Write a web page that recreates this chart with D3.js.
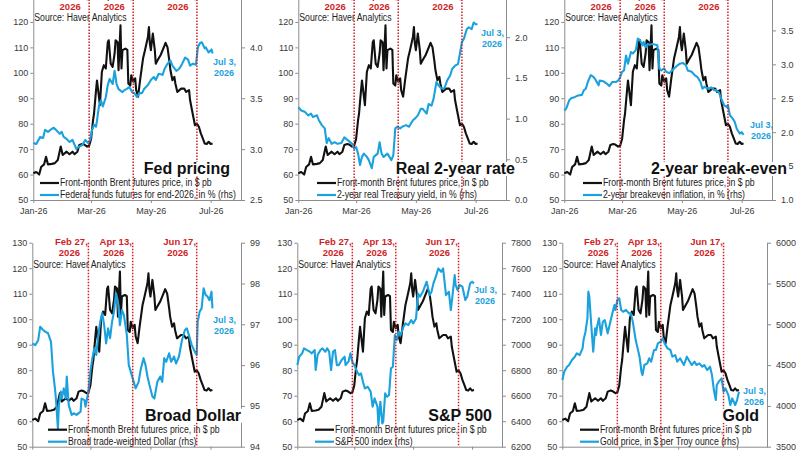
<!DOCTYPE html>
<html>
<head>
<meta charset="utf-8">
<script src="https://cdn.jsdelivr.net/npm/d3@7"></script>
<style>
  body { margin: 0; background: #fff; }
  svg text { font-family: "Liberation Sans", Arial, sans-serif; }
</style>
</head>
<body>
<svg id="chart" width="800" height="450"></svg>
<script>
// ---- data ----
var brent = [["01-01",60.5],["01-04",61],["01-07",60],["01-09",63],["01-12",64],["01-14",67],["01-16",64],["01-20",64.2],["01-23",64.5],["01-26",65.7],["01-29",71],["01-31",67.7],["02-04",69],["02-07",68],["02-10",69],["02-12",68],["02-15",69],["02-17",71.6],["02-20",72],["02-22",71.8],["02-25",71],["02-27",71.3],["03-01",74],["03-03",81.4],["03-04",84],["03-06",93],["03-07",97],["03-09",90.5],["03-10",87.3],["03-12",100.4],["03-14",103],["03-16",101.7],["03-18",112],["03-19",112.8],["03-21",103.6],["03-23",102.3],["03-25",107.6],["03-26",112.8],["03-28",112],["03-29",101],["03-31",118.7],["04-01",101.7],["04-02",108.9],["04-05",109.5],["04-07",109],["04-08",95.8],["04-10",95],["04-11",99],["04-13",96.5],["04-15",97.8],["04-16",93.2],["04-18",90.6],["04-20",97.1],["04-23",105.6],["04-25",108.9],["04-28",114.1],["04-29",118],["04-30",111.5],["05-01",108.9],["05-03",115.4],["05-05",109],["05-06",103.6],["05-08",105],["05-11",107],["05-15",110.8],["05-16",111.8],["05-18",110],["05-20",104.3],["05-21",101],["05-23",97.1],["05-25",98.4],["05-26",95.8],["05-28",92.5],["06-01",93.8],["06-04",93.8],["06-06",92.5],["06-09",93.2],["06-10",89.3],["06-12",85.3],["06-15",79.4],["06-17",80],["06-19",78.8],["06-21",76.2],["06-23",74.2],["06-25",72.2],["06-27",72],["06-29",72.9],["07-01",72],["07-03",72.2]];

var fedFunds = [["01-01",3.06],["01-04",3.05],["01-08",3.12],["01-11",3.11],["01-13",3.19],["01-16",3.17],["01-20",3.20],["01-22",3.21],["01-25",3.18],["01-28",3.15],["01-30",3.17],["02-01",3.12],["02-04",3.10],["02-07",3.07],["02-10",3.09],["02-14",3.00],["02-16",3.02],["02-20",3.04],["02-23",3.09],["02-26",3.06],["02-28",3.09],["03-02",3.19],["03-04",3.24],["03-06",3.22],["03-07",3.28],["03-09",3.42],["03-11",3.48],["03-13",3.42],["03-16",3.51],["03-18",3.63],["03-20",3.69],["03-23",3.64],["03-25",3.77],["03-27",3.64],["03-29",3.59],["04-02",3.56],["04-04",3.58],["04-06",3.59],["04-09",3.61],["04-12",3.56],["04-14",3.55],["04-17",3.51],["04-19",3.55],["04-22",3.55],["04-24",3.59],["04-28",3.63],["05-01",3.68],["05-04",3.71],["05-06",3.68],["05-09",3.74],["05-13",3.73],["05-15",3.79],["05-18",3.84],["05-21",3.87],["05-23",3.82],["05-27",3.77],["05-30",3.79],["06-02",3.84],["06-05",3.90],["06-08",3.88],["06-10",3.82],["06-13",3.84],["06-16",3.83],["06-18",4.00],["06-20",4.04],["06-22",4.05],["06-25",3.99],["06-26",4.00],["06-29",3.95],["07-02",3.98],["07-03",3.94]];

var realYield = [["01-01",1.14],["01-04",1.10],["01-08",1.08],["01-11",1.04],["01-14",1.06],["01-16",1.02],["01-20",1.04],["01-22",0.98],["01-25",0.92],["01-28",0.88],["01-30",0.70],["02-01",0.76],["02-04",0.69],["02-07",0.71],["02-10",0.69],["02-14",0.70],["02-17",0.77],["02-21",0.73],["02-25",0.69],["02-27",0.63],["03-01",0.65],["03-03",0.57],["03-05",0.43],["03-07",0.53],["03-09",0.57],["03-12",0.53],["03-14",0.49],["03-17",0.39],["03-19",0.53],["03-23",0.57],["03-25",0.71],["03-27",0.57],["03-29",0.53],["04-02",0.57],["04-04",0.53],["04-06",0.49],["04-08",0.55],["04-10",0.88],["04-12",0.90],["04-15",0.88],["04-17",0.90],["04-21",0.92],["04-24",0.90],["04-28",0.98],["04-30",1.00],["05-03",1.04],["05-06",1.12],["05-08",1.12],["05-12",1.06],["05-14",1.18],["05-17",1.16],["05-19",1.24],["05-22",1.45],["05-24",1.41],["05-27",1.37],["05-30",1.37],["06-02",1.47],["06-05",1.53],["06-07",1.61],["06-10",1.65],["06-13",1.67],["06-15",1.80],["06-17",1.94],["06-19",1.98],["06-22",2.10],["06-24",2.12],["06-27",2.10],["06-29",2.18],["07-01",2.16],["07-03",2.16]];

var breakeven = [["01-01",2.32],["01-03",2.35],["01-06",2.47],["01-08",2.50],["01-12",2.52],["01-15",2.54],["01-19",2.55],["01-21",2.62],["01-23",2.64],["01-25",2.74],["01-28",2.84],["01-31",2.81],["02-02",2.77],["02-05",2.69],["02-06",2.76],["02-10",2.75],["02-13",2.72],["02-16",2.68],["02-19",2.74],["02-23",2.74],["02-25",2.76],["02-27",2.81],["03-01",2.89],["03-03",2.91],["03-05",3.13],["03-07",3.01],["03-10",3.18],["03-12",3.16],["03-15",3.21],["03-17",3.38],["03-19",3.36],["03-22",3.28],["03-23",3.33],["03-25",3.25],["03-27",3.30],["03-29",3.29],["04-01",3.30],["04-04",3.29],["04-06",3.28],["04-08",2.94],["04-10",2.91],["04-13",2.94],["04-15",2.89],["04-18",2.87],["04-21",2.91],["04-23",2.94],["04-27",2.99],["04-29",3.01],["05-02",3.02],["05-05",2.99],["05-07",2.91],["05-11",2.89],["05-14",2.84],["05-17",2.81],["05-20",2.74],["05-22",2.64],["05-24",2.67],["05-28",2.64],["05-31",2.66],["06-03",2.62],["06-05",2.62],["06-08",2.58],["06-10",2.50],["06-13",2.40],["06-16",2.37],["06-17",2.40],["06-19",2.25],["06-22",2.20],["06-24",2.15],["06-26",2.05],["06-29",1.98],["07-01",2.00],["07-03",1.96]];

var broadDollar = [["01-01",96.53],["01-04",96.49],["01-07",96.61],["01-09",96.94],["01-12",96.86],["01-14",96.82],["01-17",96.78],["01-20",96.57],["01-22",95.84],["01-24",95.43],["01-25",95.18],["01-27",94.45],["01-28",95.02],["01-30",95.35],["01-31",95.18],["02-02",95.43],["02-04",95.18],["02-05",95.72],["02-07",95.02],["02-10",94.78],["02-12",94.82],["02-15",94.78],["02-19",94.86],["02-20",95.18],["02-23",95.14],["02-24",94.98],["02-27",95.35],["03-01",95.84],["03-03",96.17],["03-05",96.41],["03-07",96.25],["03-09",96.74],["03-11",97.06],["03-13",97.27],["03-15",96.98],["03-17",96.53],["03-19",96.90],["03-21",96.66],["03-23",97.06],["03-25",97.31],["03-27",97.76],["03-29",97.55],["03-31",96.98],["04-02",97.35],["04-04",97.23],["04-07",96.74],["04-09",96.00],["04-11",95.84],["04-14",95.59],["04-16",95.43],["04-19",95.59],["04-21",95.88],["04-24",96.17],["04-26",96.00],["04-28",95.72],["04-30",95.51],["05-03",95.23],["05-05",95.18],["05-08",95.59],["05-11",95.72],["05-13",95.59],["05-15",96.17],["05-17",96.08],["05-20",96.29],["05-22",96.08],["05-25",96.21],["05-27",96.04],["05-30",96.21],["06-02",96.61],["06-05",96.86],["06-07",96.90],["06-09",96.74],["06-12",96.49],["06-15",96.33],["06-17",96.25],["06-18",97.06],["06-20",97.31],["06-22",97.39],["06-24",97.88],["06-26",97.72],["06-28",97.68],["06-30",97.59],["07-02",97.80],["07-03",97.39]];

var sp500 = [["01-01",6840],["01-03",6906],["01-06",6932],["01-08",6971],["01-11",6958],["01-14",6945],["01-16",6932],["01-19",6958],["01-20",6801],["01-22",6919],["01-25",6958],["01-27",6971],["01-30",6945],["02-01",6971],["02-03",6945],["02-05",6801],["02-07",6945],["02-09",6958],["02-11",6840],["02-13",6840],["02-16",6880],["02-19",6906],["02-20",6840],["02-23",6867],["02-25",6932],["02-27",6867],["03-01",6840],["03-04",6788],["03-06",6762],["03-08",6775],["03-10",6710],["03-12",6657],["03-15",6670],["03-18",6631],["03-20",6514],["03-22",6579],["03-25",6514],["03-26",6370],["03-28",6553],["03-30",6383],["03-31",6396],["04-02",6618],["04-04",6592],["04-06",6605],["04-08",6814],["04-10",6827],["04-12",7076],["04-14",7037],["04-16",7102],["04-18",7076],["04-21",7141],["04-23",7167],["04-26",7154],["04-29",7193],["05-01",7167],["05-04",7206],["05-06",7402],["05-08",7376],["05-11",7415],["05-13",7455],["05-15",7494],["05-18",7389],["05-20",7415],["05-22",7481],["05-25",7546],["05-27",7598],["05-30",7572],["06-01",7598],["06-04",7389],["06-07",7415],["06-09",7272],["06-11",7402],["06-13",7546],["06-14",7468],["06-16",7428],["06-18",7468],["06-21",7455],["06-24",7350],["06-26",7376],["06-29",7481],["07-01",7494],["07-03",7481]];

var gold = [["01-01",4317],["01-03",4419],["01-06",4480],["01-08",4501],["01-11",4562],["01-14",4603],["01-16",4644],["01-19",4623],["01-22",4705],["01-23",4807],["01-25",4909],["01-27",5073],["01-28",5400],["01-29",5338],["01-31",4991],["02-01",4828],["02-02",4664],["02-04",4950],["02-05",4869],["02-06",4971],["02-08",5073],["02-10",4869],["02-12",5032],["02-14",5052],["02-17",4889],["02-19",4991],["02-21",5093],["02-24",5236],["02-25",5175],["02-27",5297],["03-01",5318],["03-03",5175],["03-05",5154],["03-08",5175],["03-11",5134],["03-13",5134],["03-15",5032],["03-18",4807],["03-20",4705],["03-22",4603],["03-24",4419],["03-25",4378],["03-27",4501],["03-30",4521],["04-01",4583],["04-03",4542],["04-06",4685],["04-08",4685],["04-10",4766],["04-13",4787],["04-15",4828],["04-17",4766],["04-20",4705],["04-23",4685],["04-25",4603],["04-28",4623],["04-30",4542],["05-03",4583],["05-05",4542],["05-07",4501],["05-10",4603],["05-13",4542],["05-15",4501],["05-18",4542],["05-20",4501],["05-23",4521],["05-26",4480],["05-28",4501],["05-31",4440],["06-03",4480],["06-05",4378],["06-07",4194],["06-09",4072],["06-10",4256],["06-12",4297],["06-15",4337],["06-17",4174],["06-19",4215],["06-22",4133],["06-24",4011],["06-26",4092],["06-29",4011],["07-01",4072],["07-03",4174]];

var eventDates = ["02-27", "04-13", "06-17"];
var eventLabels = ["Feb 27,", "Apr 13,", "Jun 17,"];
var monthTicks = ["01-01", "03-01", "05-01", "07-01"];
var brentTicks = [50, 60, 70, 80, 90, 100, 110, 120, 130];
var fedTicks = [2.5, 3.0, 3.5, 4.0, 4.5];
var realTicks = [0, 0.5, 1.0, 1.5, 2.0, 2.5];
var breakTicks = [1.0, 1.5, 2.0, 2.5, 3.0, 3.5, 4.0];
var dollarTicks = [94, 95, 96, 97, 98, 99];
var spTicks = [6200, 6400, 6600, 6800, 7000, 7200, 7400, 7600, 7800];
var goldTicks = [3500, 4000, 4500, 5000, 5500, 6000];

var brentName = "Front-month Brent futures price, in $ pb";

// ---- layout of the six panels ----
var panels = [
  {series: fedFunds, ticks: fedTicks, fmt: ".1f", title: "Fed pricing",
   name: "Federal funds futures for end-2026, in % (rhs)",
   left: 33.3, right: 241, top: -3.5, bottom: 200, titleX: 230, legX: 40, noteX: 213, noteY: 61},
  {series: realYield, ticks: realTicks, fmt: ".1f", title: "Real 2-year rate",
   name: "2-year real Treasury yield, in % (rhs)",
   left: 298.3, right: 506, top: -3.5, bottom: 200, titleX: 515, legX: 317, noteX: 481, noteY: 32},
  {series: breakeven, ticks: breakTicks, fmt: ".1f", title: "2-year break-even",
   name: "2-year breakeven inflation, in % (rhs)",
   left: 564.3, right: 772, top: -3.5, bottom: 200, titleX: 787, legX: 583, noteX: 750, noteY: 124},
  {series: broadDollar, ticks: dollarTicks, fmt: "d", title: "Broad Dollar",
   name: "Broad trade-weighted Dollar (rhs)",
   left: 32.3, right: 241, top: 242.7, bottom: 446.7, titleX: 241, legX: 48, noteX: 213, noteY: 319},
  {series: sp500, ticks: spTicks, fmt: "d", title: "S&P 500",
   name: "S&P 500 index (rhs)",
   left: 297.3, right: 502, top: 242.7, bottom: 446.7, titleX: 492, legX: 315, noteX: 474, noteY: 289},
  {series: gold, ticks: goldTicks, fmt: "d", title: "Gold",
   name: "Gold price, in $ per Troy ounce (rhs)",
   left: 562.3, right: 767, top: 242.7, bottom: 446.7, titleX: 759, legX: 580, noteX: 743, noteY: 390}
];

var blue = "#1ba2de", red = "#cf1f26", axisGrey = "#8c8c8c";
var parseDay = function(s) { return d3.timeParse("%Y-%m-%d")("2026-" + s); };
var xDomain = [parseDay("01-01"), parseDay("08-01")];

// the original uses a narrow face, so plain text is squeezed sideways
function narrowText(g, tx, ty, str) {
    return g.append("text")
        .attr("transform", "translate(" + tx + "," + ty + ") scale(0.87,1)")
        .attr("font-size", 10).attr("fill", "#222").text(str);
}

var svg = d3.select("#chart");
svg.append("rect").attr("width", 800).attr("height", 450).attr("fill", "#fff");

panels.forEach(function(p) {
    var x = d3.scaleTime().domain(xDomain).range([p.left, p.right]);
    var y = d3.scaleLinear().domain([50, 130]).range([p.bottom, p.top]);
    var y2 = d3.scaleLinear().domain(d3.extent(p.ticks)).range([p.bottom, p.top]);
    var g = svg.append("g");

    // axes
    g.append("g").attr("transform", "translate(" + p.left + ",0)")
        .call(d3.axisLeft(y).tickValues(brentTicks).tickSize(3).tickPadding(2).tickSizeOuter(0));
    g.append("g").attr("transform", "translate(" + p.right + ",0)")
        .call(d3.axisRight(y2).tickValues(p.ticks).tickFormat(d3.format(p.fmt))
            .tickSize(4).tickPadding(5).tickSizeOuter(0));
    g.append("g").attr("transform", "translate(0," + p.bottom + ")")
        .call(d3.axisBottom(x).tickValues(monthTicks.map(parseDay))
            .tickFormat(d3.timeFormat("%b-%y")).tickSize(3).tickPadding(5).tickSizeOuter(0));
    g.selectAll(".domain, .tick line").attr("stroke", axisGrey);
    g.selectAll(".tick text").attr("fill", "#3a3a3a").style("font-size", "9px");

    // lines: Brent first, rhs series on top
    var brentLine = d3.line()
        .x(function(d) { return x(parseDay(d[0])); })
        .y(function(d) { return y(d[1]); });
    var rhsLine = d3.line()
        .x(function(d) { return x(parseDay(d[0])); })
        .y(function(d) { return y2(d[1]); });
    g.append("path").datum(brent).attr("d", brentLine)
        .attr("fill", "none").attr("stroke", "#111").attr("stroke-width", 2.1).attr("stroke-linejoin", "round");
    g.append("path").datum(p.series).attr("d", rhsLine)
        .attr("fill", "none").attr("stroke", blue).attr("stroke-width", 2.1).attr("stroke-linejoin", "round");

    // source
    narrowText(g, p.left + 1, y(120) - 0.5, "Source: Haver Analytics");

    // legend
    [[brentName, "#111"], [p.name, blue]].forEach(function(l, i) {
        var cy = p.bottom - 17 + i * 12;
        g.append("line").attr("x1", p.legX).attr("x2", p.legX + 19).attr("y1", cy).attr("y2", cy)
            .attr("stroke", l[1]).attr("stroke-width", 2.2);
        narrowText(g, p.legX + 20, cy + 3.4, l[0]);
    });

    // event markers
    eventDates.forEach(function(d, i) {
        var ex = x(parseDay(d));
        g.append("line").attr("x1", ex).attr("x2", ex).attr("y1", p.top).attr("y2", p.bottom)
            .attr("stroke", red).attr("stroke-width", 1.5).attr("stroke-dasharray", "1.5,1.5");
        var t = g.append("text").attr("text-anchor", "middle").attr("font-size", 9.5)
            .attr("font-weight", "bold").attr("fill", red);
        t.append("tspan").attr("x", ex - 17).attr("y", p.top + 2.5).text(eventLabels[i]);
        t.append("tspan").attr("x", ex - 19).attr("y", p.top + 13.5).text("2026");
    });

    // last-date note
    var note = g.append("text").attr("font-size", 9).attr("font-weight", "bold").attr("fill", blue);
    note.append("tspan").attr("x", p.noteX).attr("y", p.noteY + 3.5).text("Jul 3,");
    note.append("tspan").attr("x", p.noteX + 1).attr("y", p.noteY + 15).text("2026");

    // title on a white box
    var title = g.append("text").attr("x", p.titleX).attr("y", p.bottom - 26)
        .attr("text-anchor", "end").attr("font-size", 16).attr("font-weight", "bold")
        .attr("fill", "#111").text(p.title);
    var bb = title.node().getBBox();
    g.insert("rect", function() { return title.node(); })
        .attr("x", bb.x - 1).attr("y", bb.y + 2).attr("width", bb.width + 2).attr("height", bb.height - 3)
        .attr("fill", "#fff");
});
</script>
</body>
</html>
